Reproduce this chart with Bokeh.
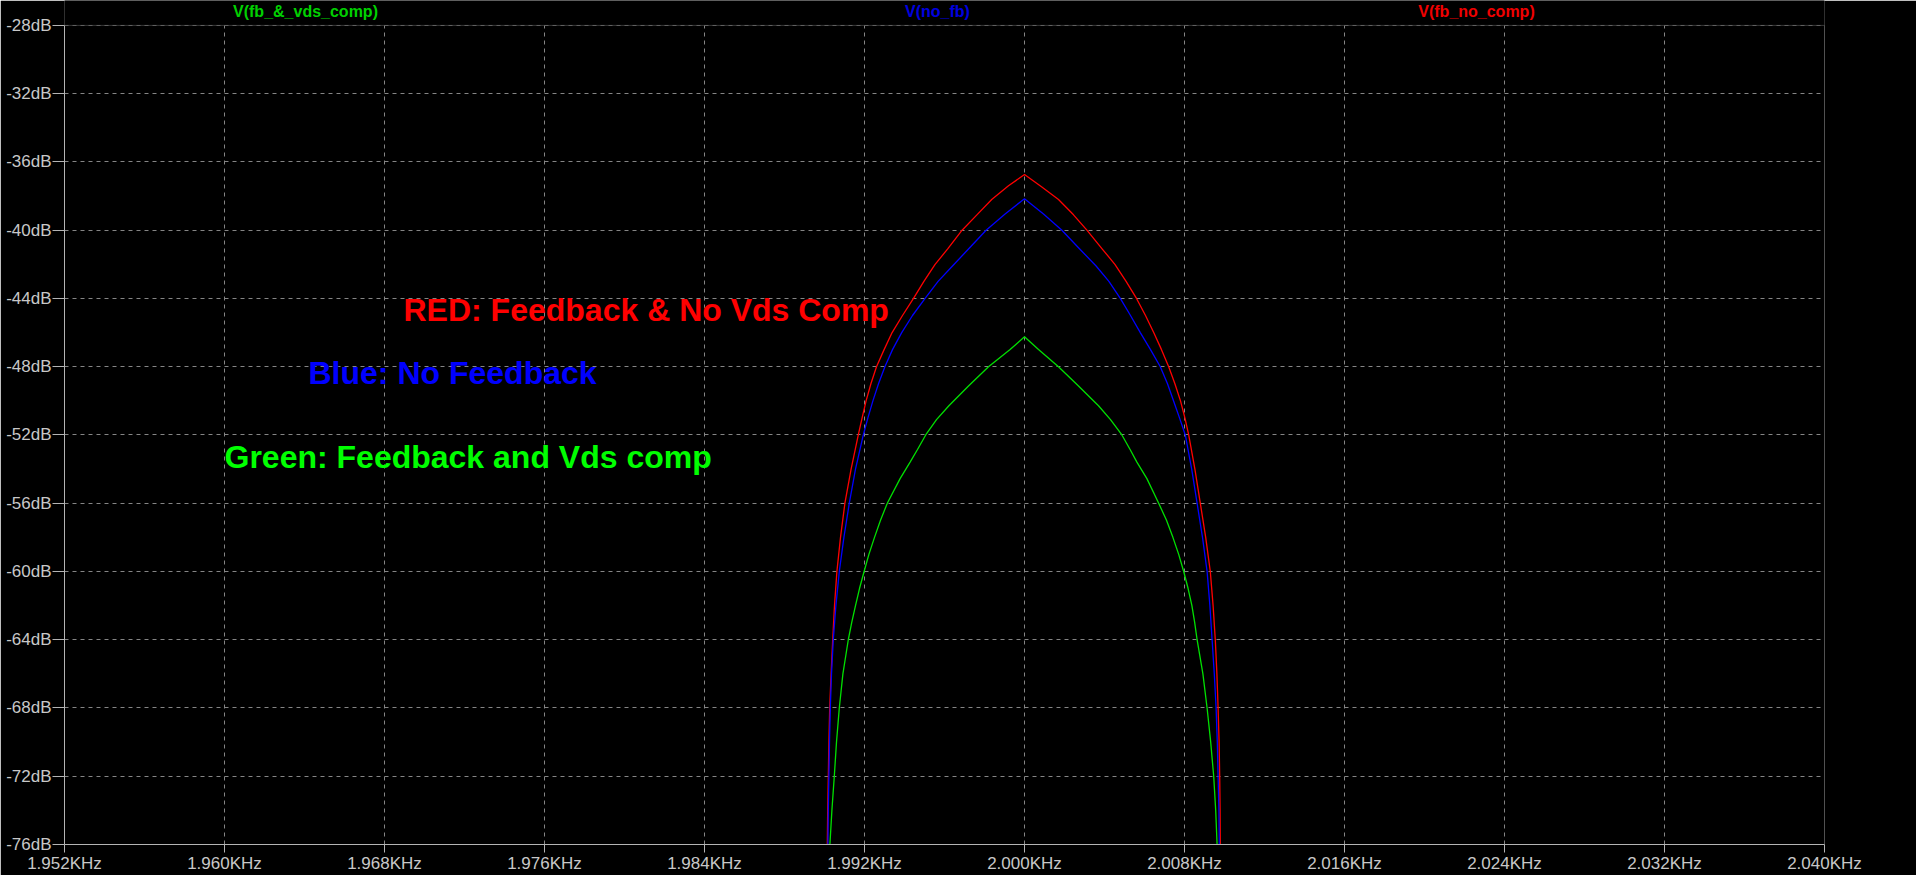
from bokeh.plotting import figure
from bokeh.models import FixedTicker, Label, Range1d, BoxAnnotation
from bokeh.embed import file_html
from bokeh.resources import INLINE

# ---- axis ticks ----
freq_ticks = [1952, 1960, 1968, 1976, 1984, 1992, 2000, 2008, 2016, 2024, 2032, 2040]
freq_tick_labels = ["1.952KHz", "1.960KHz", "1.968KHz", "1.976KHz", "1.984KHz", "1.992KHz",
                    "2.000KHz", "2.008KHz", "2.016KHz", "2.024KHz", "2.032KHz", "2.040KHz"]
db_ticks = [-28, -32, -36, -40, -44, -48, -52, -56, -60, -64, -68, -72, -76]
db_tick_labels = ["-28dB", "-32dB", "-36dB", "-40dB", "-44dB", "-48dB", "-52dB",
                  "-56dB", "-60dB", "-64dB", "-68dB", "-72dB", "-76dB"]

# ---- traces (frequency in Hz, magnitude in dB) ----
freq_red = [1990.14, 1990.16, 1990.19, 1990.22, 1990.26, 1990.33, 1990.41, 1990.50, 1990.62,
            1990.80, 1991.02, 1991.33, 1991.69, 1991.88, 1992.08, 1992.32, 1992.60, 1992.98,
            1993.38, 1993.90, 1994.45, 1994.97, 1995.53, 1996.16, 1996.88, 1997.62, 1998.36,
            1999.20, 2000.00, 2000.85, 2001.70, 2002.45, 2003.12, 2003.90, 2004.52, 2005.08,
            2005.60, 2006.05, 2006.46, 2006.85, 2007.21, 2007.52, 2007.80, 2008.02, 2008.21,
            2008.52, 2008.79, 2009.06, 2009.29, 2009.43, 2009.54, 2009.62, 2009.68, 2009.73,
            2009.76, 2009.78, 2009.79]
db_red = [-76.0, -74.0, -72.0, -70.0, -68.0, -66.0, -64.0, -62.0, -60.0,
          -58.0, -56.0, -54.0, -52.0, -51.0, -50.0, -49.0, -48.0, -47.0,
          -46.0, -45.0, -44.0, -43.0, -42.0, -41.1, -40.0, -39.1, -38.2,
          -37.4, -36.74, -37.45, -38.2, -39.1, -40.0, -41.12, -42.0, -43.0,
          -44.0, -45.0, -46.0, -47.0, -48.0, -49.0, -50.0, -51.0, -52.0,
          -54.0, -56.0, -58.0, -60.0, -62.0, -64.0, -66.0, -68.0, -70.0,
          -72.0, -74.0, -76.0]

freq_blue = [1990.17, 1990.19, 1990.22, 1990.25, 1990.29, 1990.35, 1990.44, 1990.57, 1990.74,
             1990.97, 1991.24, 1991.55, 1991.94, 1992.17, 1992.42, 1992.70, 1993.02, 1993.40,
             1993.86, 1994.40, 1995.03, 1995.68, 1996.40, 1997.20, 1998.08, 1999.03, 2000.00,
             2000.95, 2001.87, 2002.76, 2003.58, 2004.22, 2004.79, 2005.30, 2005.79, 2006.30,
             2006.79, 2007.15, 2007.45, 2007.75, 2008.04, 2008.36, 2008.63, 2008.90, 2009.13,
             2009.27, 2009.38, 2009.49, 2009.58, 2009.64, 2009.68, 2009.72, 2009.74]
db_blue = [-76.0, -74.0, -72.0, -70.0, -68.0, -66.0, -64.0, -62.0, -60.0,
           -58.0, -56.0, -54.0, -52.0, -51.0, -50.0, -49.0, -48.0, -47.0,
           -46.0, -45.0, -44.0, -43.0, -42.1, -41.1, -40.0, -39.05, -38.16,
           -39.05, -40.0, -41.1, -42.1, -43.0, -44.0, -45.0, -46.0, -47.0,
           -48.0, -49.0, -50.0, -51.0, -52.0, -54.0, -56.0, -58.0, -60.0,
           -62.0, -64.0, -66.0, -68.0, -70.0, -72.0, -74.0, -76.0]

freq_green = [1990.27, 1990.37, 1990.49, 1990.60, 1990.74, 1990.92, 1991.19, 1991.36, 1991.55,
              1991.75, 1991.98, 1992.22, 1992.50, 1992.80, 1993.14, 1993.78, 1994.28, 1994.65,
              1995.06, 1995.60, 1996.22, 1997.20, 1998.20, 1999.28, 2000.00, 2000.70, 2001.70,
              2002.70, 2003.70, 2004.30, 2004.87, 2005.28, 2005.62, 2006.12, 2006.71, 2007.10,
              2007.42, 2007.71, 2007.96, 2008.18, 2008.37, 2008.51, 2008.63, 2008.92, 2009.13,
              2009.31, 2009.46, 2009.56, 2009.63]
db_green = [-76.0, -74.0, -72.0, -70.0, -68.0, -66.0, -64.0, -63.0, -62.0,
            -61.0, -60.0, -59.0, -58.0, -57.0, -56.0, -54.56, -53.59, -52.85,
            -52.0, -51.1, -50.29, -49.13, -48.0, -46.99, -46.25, -46.99, -48.0,
            -49.13, -50.29, -51.1, -52.0, -52.85, -53.59, -54.56, -56.0, -57.0,
            -58.0, -59.0, -60.0, -61.0, -62.0, -63.0, -64.0, -66.0, -68.0,
            -70.0, -72.0, -74.0, -76.0]

trace_names = ["V(fb_&_vds_comp)", "V(no_fb)", "V(fb_no_comp)"]
notes = ["RED: Feedback & No Vds Comp", "Blue: No Feedback", "Green: Feedback and Vds comp"]

X_MIN, X_MAX = 1952, 2040
Y_MIN, Y_MAX = -76, -28
Y_VIEW_TOP = -26.54  # extra headroom above the plot box for the trace names

GREEN = "#00e000"
BLUE = "#0000ff"
RED = "#ff0000"
AXIS_COL = "#b4b4b4"
TEXT_COL = "#c8c8c8"
FONT = "Liberation Sans"

p = figure(width=1916, height=875, output_backend="svg", toolbar_location=None,
           x_range=Range1d(X_MIN, X_MAX), y_range=Range1d(Y_MIN, Y_VIEW_TOP),
           min_border_left=64, min_border_right=92, min_border_top=0, min_border_bottom=29,
           background_fill_color="black", border_fill_color="black",
           outline_line_color=None)

p.xaxis.ticker = FixedTicker(ticks=freq_ticks)
p.xaxis.major_label_overrides = {t: l for t, l in zip(freq_ticks, freq_tick_labels)}
p.yaxis.ticker = FixedTicker(ticks=db_ticks)
p.yaxis.major_label_overrides = {t: l for t, l in zip(db_ticks, db_tick_labels)}
p.yaxis.bounds = (Y_MIN, Y_MAX)

for ax in (p.xaxis, p.yaxis):
    ax.axis_line_color = AXIS_COL
    ax.major_tick_line_color = AXIS_COL
    ax.major_tick_in = 0
    ax.minor_tick_line_color = None
    ax.major_label_text_color = TEXT_COL
    ax.major_label_text_font = FONT
    ax.major_label_text_font_size = "17px"
p.xaxis.major_tick_out = 8
p.xaxis.major_label_standoff = 1
p.yaxis.major_tick_out = 12
p.yaxis.major_label_standoff = 1

p.grid.grid_line_color = "#858585"
p.grid.grid_line_dash = "4 4"
p.grid.grid_line_width = 1

p.line(freq_green, db_green, line_color=GREEN, line_width=1.3)
p.line(freq_red, db_red, line_color=RED, line_width=1.3)
p.line(freq_blue, db_blue, line_color=BLUE, line_width=1.3)

# black header strip above the plot box (hides grid there) and the plot box border
p.add_layout(BoxAnnotation(bottom=Y_MAX, top=Y_VIEW_TOP, left=X_MIN, right=X_MAX,
                           fill_color="black", fill_alpha=1.0, line_color=None))
p.add_layout(BoxAnnotation(bottom=Y_MIN, top=Y_MAX, left=X_MIN, right=X_MAX,
                           fill_alpha=0.0, line_color=AXIS_COL, line_width=1))

# trace names above the plot box
for name, x, col in zip(trace_names, [1964.05, 1995.65, 2022.6], ["#00d000", "#0000e0", "#f00000"]):
    p.add_layout(Label(x=x, y=-27.18, text=name, text_color=col, text_font=FONT,
                       text_font_size="16px", text_font_style="bold",
                       text_align="center", text_baseline="alphabetic"))

# annotations inside plot
for note, x, y, col in zip(notes, [1968.95, 1964.2, 1960.0], [-44.7, -48.35, -53.3],
                           [RED, BLUE, "#00ff00"]):
    p.add_layout(Label(x=x, y=y, text=note, text_color=col, text_font=FONT,
                       text_font_size="32px", text_font_style="bold",
                       text_align="left", text_baseline="alphabetic"))

open("out.html", "w").write(file_html(p, INLINE))
